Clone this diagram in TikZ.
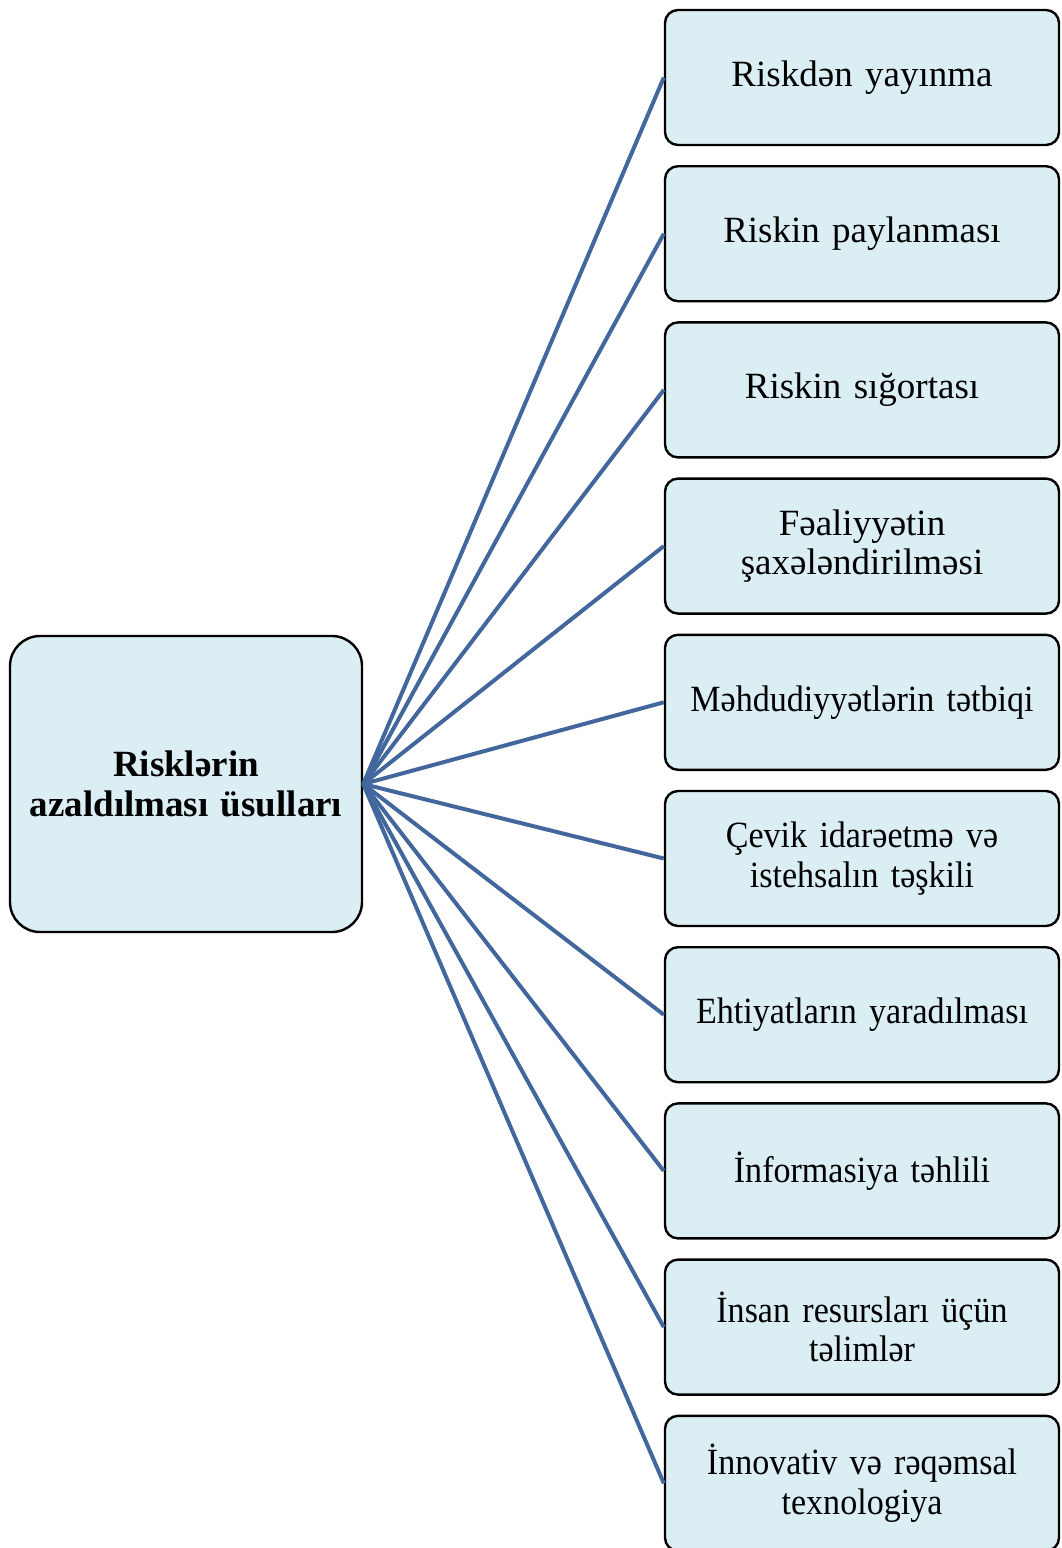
\documentclass[tikz,border=0pt]{standalone}
\usepackage{fontspec}
\setmainfont{Liberation Serif}
\newfontfamily\narrowserif[FakeStretch=0.92]{Liberation Serif}
\definecolor{boxfill}{HTML}{DBEEF4}
\definecolor{linkblue}{HTML}{41679C}
\begin{document}
\begin{tikzpicture}[x=1pt,y=-1pt,
  item/.style={draw=black, line width=2.4pt, fill=boxfill, rounded corners=13pt,
    minimum width=394pt, minimum height=135pt, align=center, text width=385pt,
    font=\fontsize{37}{39.5}\selectfont, inner sep=0pt},
  narrow/.style={font=\fontsize{37}{39.5}\narrowserif\selectfont},
  hub/.style={draw=black, line width=2.4pt, fill=boxfill, rounded corners=30pt,
    minimum width=352pt, minimum height=296pt, align=center, text width=345pt,
    font=\fontsize{37}{39.5}\selectfont\bfseries, inner sep=0pt},
  link/.style={draw=linkblue, line width=4pt}]
\useasboundingbox (0,0) rectangle (1062,1548);

\node[hub] (c) at (186,784) {Risklərin\\azaldılması üsulları};

\foreach \i/\s/\t in {
  0//{Riskdən yayınma},
  1//{Riskin paylanması},
  2//{Riskin sığortası},
  3//{Fəaliyyətin\\şaxələndirilməsi},
  4/narrow/{Məhdudiyyətlərin tətbiqi},
  5/narrow/{Çevik idarəetmə və\\istehsalın təşkili},
  6/narrow/{Ehtiyatların yaradılması},
  7/narrow/{İnformasiya təhlili},
  8/narrow/{İnsan resursları üçün\\təlimlər},
  9/narrow/{İnnovativ və rəqəmsal\\texnologiya}}
{
  \node[item,\s] (b\i) at (862,{77.5+156.2*\i}) {\t};
  \draw[link] (c.east) -- (b\i.west);
}
\end{tikzpicture}
\end{document}
